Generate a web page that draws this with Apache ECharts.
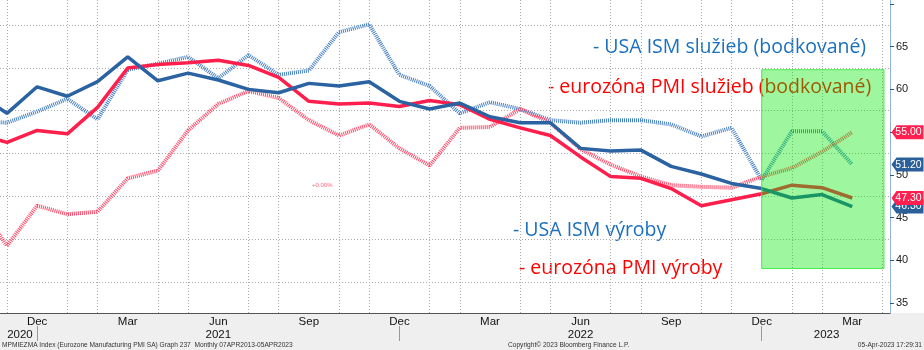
<!DOCTYPE html>
<html>
<head>
<meta charset="utf-8">
<script src="https://cdn.jsdelivr.net/npm/echarts@6/dist/echarts.min.js"></script>
<style>
  html, body { margin: 0; padding: 0; }
  #chart { width: 924px; height: 350px; background: linear-gradient(to bottom, #fff 313px, #efefef 313px); }
</style>
</head>
<body>
<div id="chart"></div>
<script>
// monthly values, Oct 2020 .. Mar 2023 (x = -1 .. 28, Nov 2020 = 0)
const monthNames = ['Jan', 'Feb', 'Mar', 'Apr', 'May', 'Jun', 'Jul', 'Aug', 'Sep', 'Oct', 'Nov', 'Dec'];

const ismServices = [56.3, 56.1, 57.4, 58.9, 56.5, 62.3, 63.0, 63.8, 61.3, 64.0, 61.7, 62.2, 66.7, 67.6, 61.7,
  60.4, 57.2, 58.5, 57.7, 56.4, 56.1, 56.4, 56.4, 55.9, 54.5, 55.5, 49.4, 55.1, 55.1, 51.2];
const ezServices = [46.9, 41.7, 46.4, 45.4, 45.7, 49.6, 50.5, 55.2, 58.3, 59.8, 59.0, 56.4, 54.6, 55.9, 53.1,
  51.1, 55.5, 55.6, 57.7, 56.1, 53.0, 51.2, 49.8, 48.8, 48.6, 48.5, 49.8, 50.8, 52.7, 55.0];
const ismManufacturing = [59.6, 57.2, 60.3, 59.2, 60.9, 63.8, 61.0, 61.9, 61.1, 60.0, 59.6, 60.7, 60.4, 60.9, 58.6,
  57.7, 58.4, 56.8, 56.1, 56.1, 53.1, 52.8, 52.9, 51.0, 50.1, 49.0, 48.4, 47.3, 47.7, 46.3];
const ezManufacturing = [54.8, 53.8, 55.2, 54.8, 57.9, 62.5, 62.9, 63.1, 63.4, 62.8, 61.4, 58.6, 58.3, 58.4, 58.0,
  58.7, 58.2, 56.5, 55.5, 54.6, 52.1, 49.8, 49.6, 48.4, 46.4, 47.1, 47.8, 48.8, 48.5, 47.3];

const yearLabelPos = [0.43, 7, 19, 27.15];
const yearLabelText = ['2020', '2021', '2022', '2023'];
const yearSeparators = [1, 13, 25];

const yLabelValues = [35, 40, 45, 50, 55, 60, 65];
const yTickValues = [35, 40, 45, 50, 55, 60, 65, 70];
const yGridValues = [37.5, 42.5, 47.5, 52.5, 57.5, 62.5, 67.5];

// highlighted box: Dec 2022 .. Apr 2023
const shadeBox = [25, 29.05, 39.05, 62.3];

const xMin = -0.23, xMax = 29.25;
const yMin = 33.85, yMax = 70.45;

const monthOf = (x) => (10 + x) % 12;
const quarterMonths = [], otherMonths = [];
for (let x = 0; x <= 29; x++) {
  const m = monthOf(x);
  if (m === 11 || m === 2 || m === 5 || m === 8) quarterMonths.push(x);
  else otherMonths.push(x);
}

const pairs = (arr) => arr.map((v, i) => [i - 1, v]);
const tagPath = 'path://M0,7L5,0L32,0L32,14L5,14Z';

function tag(arr, color, z) {
  const last = arr[arr.length - 1];
  return {
    z: z,
    symbol: tagPath,
    symbolSize: [32, 14],
    symbolOffset: [17.5, 0],
    silent: true,
    itemStyle: { color: color },
    label: {
      show: true, position: 'inside', offset: [1, 0], color: '#fff',
      fontFamily: 'Liberation Sans', fontSize: 10.5, formatter: () => last.toFixed(2)
    },
    data: [{ coord: [xMax, last] }]
  };
}

const chart = echarts.init(document.getElementById('chart'));
const font = 'Liberation Sans';

const annotations = [
  { text: '- USA ISM služieb (bodkované)', x: 593, y: 47, color: '#1a6fbf' },
  { text: '- eurozóna PMI služieb (bodkované)', x: 548, y: 87, color: '#ff0000' },
  { text: '- USA ISM výroby', x: 513, y: 230, color: '#1a6fbf' },
  { text: '- eurozóna PMI výroby', x: 519, y: 268, color: '#ff0000' }
];

chart.setOption({
  animation: false,
  backgroundColor: 'transparent',
  grid: { left: 0, right: 34, top: 0, bottom: 37 },
  xAxis: [{
    type: 'value', min: xMin, max: xMax, position: 'bottom',
    axisLine: { onZero: false, lineStyle: { color: '#555', width: 1 } },
    axisTick: { show: false, customValues: otherMonths },
    splitLine: { show: true, lineStyle: { color: '#aaa', type: [1, 2], width: 1 } },
    axisLabel: {
      customValues: quarterMonths, margin: 3, color: '#111', fontFamily: font, fontSize: 11.5,
      formatter: (v) => monthNames[monthOf(Math.round(v))]
    }
  }, {
    type: 'value', min: xMin, max: xMax, position: 'bottom', offset: 13,
    axisLine: { show: false, onZero: false },
    axisTick: { customValues: yearSeparators, length: 15, lineStyle: { color: '#999' } },
    splitLine: { show: false },
    axisLabel: {
      customValues: yearLabelPos, margin: 3, color: '#111', fontFamily: font, fontSize: 11.5,
      formatter: (v) => yearLabelText[yearLabelPos.indexOf(v)]
    }
  }],
  yAxis: [{
    // grid lines only
    type: 'value', min: yMin, max: yMax, position: 'left',
    axisLine: { show: false, onZero: false },
    axisTick: { show: false, customValues: yGridValues },
    splitLine: { show: true, lineStyle: { color: '#aaa', type: [1, 2], width: 1 } },
    axisLabel: { show: false }
  }, {
    type: 'value', min: yMin, max: yMax, position: 'right',
    axisLine: { show: true, onZero: false, lineStyle: { color: '#8fb3d9', width: 1 } },
    axisTick: { customValues: yTickValues, length: 4, lineStyle: { color: '#2a5a90' } },
    splitLine: { show: false },
    axisLabel: { customValues: yLabelValues, margin: 6, color: '#222', fontFamily: font, fontSize: 11 }
  }],
  series: [{
    name: 'USA ISM služieb', type: 'line', data: pairs(ismServices), symbol: 'none', yAxisIndex: 1,
    lineStyle: { color: '#4680c4', width: 4, type: [1, 1] },
    markPoint: tag(ismServices, '#2a5f99', 5)
  }, {
    name: 'eurozóna PMI služieb', type: 'line', data: pairs(ezServices), symbol: 'none', yAxisIndex: 1,
    lineStyle: { color: '#ff4a68', width: 4, type: [1, 1] },
    markPoint: tag(ezServices, '#ff2050', 5)
  }, {
    name: 'eurozóna PMI výroby', type: 'line', data: pairs(ezManufacturing), symbol: 'none', yAxisIndex: 1,
    lineStyle: { color: '#ff1f4c', width: 3.5 },
    markPoint: tag(ezManufacturing, '#ff2050', 6)
  }, {
    name: 'USA ISM výroby', type: 'line', data: pairs(ismManufacturing), symbol: 'none', yAxisIndex: 1,
    lineStyle: { color: '#2a62a2', width: 3.5 },
    markPoint: tag(ismManufacturing, '#2a5f99', 5)
  }, {
    type: 'custom', z: 10, silent: true, yAxisIndex: 1,
    data: [shadeBox],
    renderItem: (params, api) => {
      const p0 = api.coord([api.value(0), api.value(3)]);
      const p1 = api.coord([api.value(1), api.value(2)]);
      return {
        type: 'rect',
        shape: { x: p0[0], y: p0[1], width: p1[0] - p0[0], height: p1[1] - p0[1] },
        style: { fill: 'rgba(0,235,0,0.38)', stroke: 'rgba(60,230,60,0.9)', lineWidth: 1 }
      };
    }
  }],
  graphic: {
    z: 20,
    elements: annotations.map((a) => ({
      type: 'text', x: a.x, y: a.y, silent: true,
      style: { text: a.text, fill: a.color, font: '19.5px "Open Sans"', verticalAlign: 'middle' }
    })).concat([
      { type: 'text', x: 312, y: 185, silent: true,
        style: { text: '+0.00%', fill: '#ff6680', font: '6px "Liberation Sans"', verticalAlign: 'middle' } },
      { type: 'text', x: 2, y: 345, silent: true,
        style: { text: 'MPMIEZMA Index (Eurozone Manufacturing PMI SA) Graph 237  Monthly 07APR2013-05APR2023', fill: '#333', font: '6.6px "Liberation Sans"', verticalAlign: 'middle' } },
      { type: 'text', x: 508, y: 345, silent: true,
        style: { text: 'Copyright© 2023 Bloomberg Finance L.P.', fill: '#333', font: '6.6px "Liberation Sans"', verticalAlign: 'middle' } },
      { type: 'text', x: 922, y: 345, silent: true,
        style: { text: '05-Apr-2023 17:29:31', fill: '#333', font: '6.6px "Liberation Sans"', verticalAlign: 'middle', align: 'right' } }
    ])
  }
});
</script>
</body>
</html>
